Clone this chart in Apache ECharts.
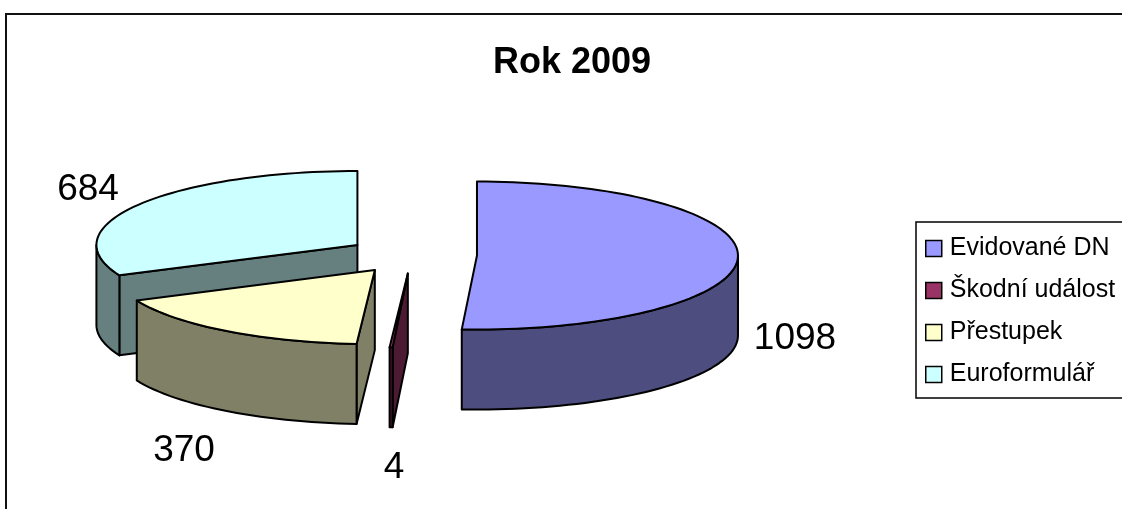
<!DOCTYPE html>
<html>
<head>
<meta charset="utf-8">
<style>
  html, body { margin: 0; padding: 0; background: #fff; }
  #chart { width: 1122px; height: 509px; }
</style>
<script src="https://cdn.jsdelivr.net/npm/echarts@6/dist/echarts.min.js"></script>
</head>
<body>
<div id="chart"></div>
<script>
const categories = ['Evidované DN', 'Škodní událost', 'Přestupek', 'Euroformulář']
const values = [1098, 4, 370, 684]
const topColors = ['#9999ff', '#993366', '#ffffcc', '#ccffff']
const sideColors = ['#4d4d80', '#4d1a33', '#808066', '#668080']
const labelSpots = [[795, 339], [394, 468], [184, 451], [88, 190]]

// pie layout in pixels, the 3D look is an ellipse pushed down by depth
const cx = 412
const cy = 255
const rx = 261
const ry = 74
const depth = 80
const explode = 65

const total = values.reduce((a, b) => a + b, 0)
const font = 'Liberation Sans, Arial, sans-serif'
const toDeg = v => v / total * 360
const rad = d => d * Math.PI / 180

const arcPoints = (ax, ay, from, to, dy) => {
  const n = Math.max(2, Math.ceil((to - from) / 2))
  const pts = []
  for (let i = 0; i <= n; i++) {
    const d = rad(from + (to - from) * i / n)
    pts.push([ax + rx * Math.sin(d), ay - ry * Math.cos(d) + dy])
  }
  return pts
}

const face = (points, fill) => ({
  type: 'polygon',
  shape: { points },
  style: { fill, stroke: '#000', lineWidth: 2, lineJoin: 'round' }
})

const renderSlice = (index) => (params, api) => {
  const value = api.value(0)
  const from = toDeg(values.slice(0, index).reduce((a, b) => a + b, 0))
  const to = from + toDeg(value)
  const mid = rad((from + to) / 2)
  const ax = cx + explode * Math.sin(mid)
  const ay = cy - explode * Math.cos(mid) * ry / rx
  const children = []

  // cut face on the starting edge, only seen when it turns toward the viewer
  if (Math.sin(rad(from)) < -0.001) {
    const edge = arcPoints(ax, ay, from, from, 0)[0]
    children.push(face([[ax, ay], edge, [edge[0], edge[1] + depth], [ax, ay + depth]], sideColors[index]))
  }

  // outer wall, front half only
  const wallFrom = Math.max(from, 90)
  const wallTo = Math.min(to, 270)
  if (wallTo > wallFrom) {
    const upper = arcPoints(ax, ay, wallFrom, wallTo, 0)
    const lower = arcPoints(ax, ay, wallFrom, wallTo, depth).reverse()
    children.push(face(upper.concat(lower), sideColors[index]))
  }

  children.push(face([[ax, ay]].concat(arcPoints(ax, ay, from, to, 0)), topColors[index]))

  children.push({
    type: 'text',
    style: {
      x: labelSpots[index][0],
      y: labelSpots[index][1],
      text: String(value),
      fill: '#000',
      font: '37px ' + font,
      align: 'center',
      verticalAlign: 'middle'
    }
  })

  return { type: 'group', children }
}

const chart = echarts.init(document.getElementById('chart'), null, { renderer: 'canvas' })

chart.setOption({
  animation: false,
  backgroundColor: '#fff',
  title: {
    text: 'Rok 2009',
    left: 567,
    top: 58,
    textAlign: 'center',
    textVerticalAlign: 'middle',
    textStyle: { fontFamily: font, fontSize: 36, fontWeight: 'bold', color: '#000' }
  },
  legend: {
    orient: 'vertical',
    left: 916,
    top: 222,
    data: categories,
    icon: 'rect',
    itemWidth: 16,
    itemHeight: 16,
    itemGap: 17,
    padding: [14, 30, 11, 9],
    borderColor: '#000',
    borderWidth: 1.5,
    selectedMode: false,
    itemStyle: { borderColor: '#000', borderWidth: 1.5 },
    textStyle: { fontFamily: font, fontSize: 25, color: '#000', padding: [0, 0, 0, 3] }
  },
  graphic: [
    {
      type: 'polyline',
      silent: true,
      shape: { points: [[6, 509], [6, 14], [1122, 14]] },
      style: { stroke: '#111', lineWidth: 2, fill: 'none' }
    }
  ],
  series: categories.map((name, i) => ({
    type: 'custom',
    name,
    z: 10 + categories.length - i,
    coordinateSystem: 'none',
    silent: true,
    itemStyle: { color: topColors[i] },
    renderItem: renderSlice(i),
    data: [[values[i]]]
  }))
})

window.addEventListener('resize', () => chart.resize())
</script>
</body>
</html>
